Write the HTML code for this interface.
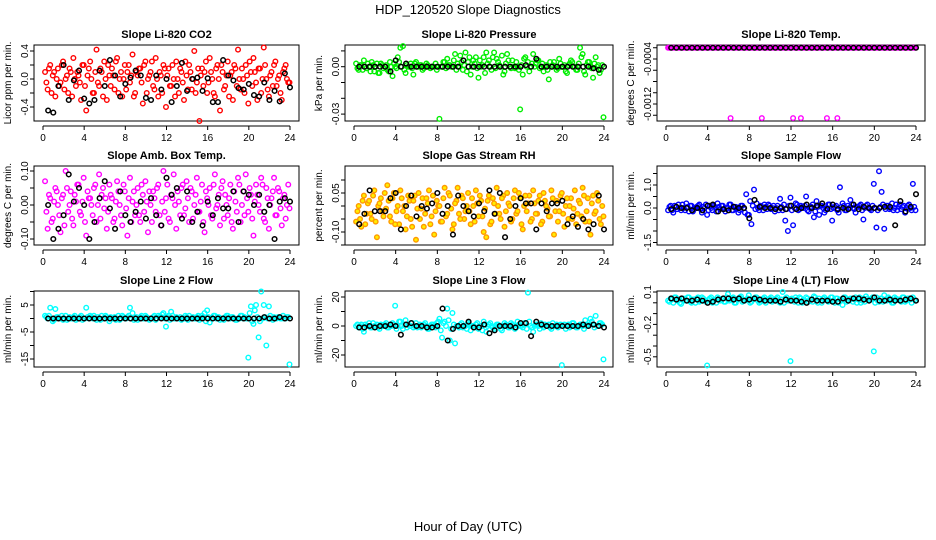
<!DOCTYPE html>
<html><head><meta charset="utf-8"><title>HDP_120520 Slope Diagnostics</title>
<style>
html,body{margin:0;padding:0;background:#fff;}
svg{display:block;font-family:"Liberation Sans",Arial,sans-serif;}
</style></head>
<body>
<svg id="chart" width="936" height="540" viewBox="0 0 936 540" xmlns="http://www.w3.org/2000/svg">
<text x="468" y="14" text-anchor="middle" font-size="13">HDP_120520  Slope Diagnostics</text>
<text x="468" y="531" text-anchor="middle" font-size="13">Hour of Day (UTC)</text>
</svg>
<script>
// shared hour arrays
const hoursC = [0.2,0.45,0.7,0.95,1.2,1.45,1.7,1.95,2.2,2.45,2.7,2.95,3.2,3.45,3.7,3.95,4.2,4.45,4.7,4.95,5.2,5.45,5.7,5.95,6.2,6.45,6.7,6.95,7.2,7.45,7.7,7.95,8.2,8.45,8.7,8.95,9.2,9.45,9.7,9.95,10.2,10.45,10.7,10.95,11.2,11.45,11.7,11.95,12.2,12.45,12.7,12.95,13.2,13.45,13.7,13.95,14.2,14.45,14.7,14.95,15.2,15.45,15.7,15.95,16.2,16.45,16.7,16.95,17.2,17.45,17.7,17.95,18.2,18.45,18.7,18.95,19.2,19.45,19.7,19.95,20.2,20.45,20.7,20.95,21.2,21.45,21.7,21.95,22.2,22.45,22.7,22.95,23.2,23.45,23.7,23.95];
const hoursD = [0.33,0.58,0.83,1.08,1.33,1.58,1.83,2.08,2.33,2.58,2.83,3.08,3.33,3.58,3.83,4.08,4.33,4.58,4.83,5.08,5.33,5.58,5.83,6.08,6.33,6.58,6.83,7.08,7.33,7.58,7.83,8.08,8.33,8.58,8.83,9.08,9.33,9.58,9.83,10.08,10.33,10.58,10.83,11.08,11.33,11.58,11.83,12.08,12.33,12.58,12.83,13.08,13.33,13.58,13.83,14.08,14.33,14.58,14.83,15.08,15.33,15.58,15.83,16.08,16.33,16.58,16.83,17.08,17.33,17.58,17.83,18.08,18.33,18.58,18.83,19.08,19.33,19.58,19.83,20.08,20.33,20.58,20.83,21.08,21.33,21.58,21.83,22.08,22.33,22.58,22.83,23.08,23.33,23.58,23.83];
const hoursB = [0.5,1,1.5,2,2.5,3,3.5,4,4.5,5,5.5,6,6.5,7,7.5,8,8.5,9,9.5,10,10.5,11,11.5,12,12.5,13,13.5,14,14.5,15,15.5,16,16.5,17,17.5,18,18.5,19,19.5,20,20.5,21,21.5,22,22.5,23,23.5,24];
const xTicks = [0,4,8,12,16,20,24];

// panel 1: CO2
const co2Col = [0.1,-0.15,0.2,0.05,-0.25,0.15,-0.05,0.25,0.0,-0.2,0.1,0.3,-0.1,0.05,-0.3,0.2,-0.45,0.15,0.0,-0.2,0.42,-0.1,0.1,0.25,-0.3,0.05,0.15,-0.15,0.3,0.0,-0.25,0.2,0.1,-0.05,0.35,-0.2,0.05,0.15,-0.35,0.25,0.0,0.1,-0.1,0.3,-0.25,0.05,0.2,-0.4,0.15,-0.1,0.0,0.25,-0.2,0.1,-0.3,0.05,0.2,-0.15,0.4,-0.05,-0.6,0.15,0.1,-0.2,0.3,0.0,-0.25,0.2,-0.45,0.1,-0.1,0.25,0.05,-0.3,0.15,0.42,-0.15,0.0,0.2,-0.35,0.1,0.3,-0.05,0.15,-0.2,0.45,0.0,-0.25,0.1,0.2,-0.1,0.05,-0.3,0.15,0.0,-0.05];
const co2Col2 = [-0.05,0.15,-0.2,0.1,0.0,-0.1,0.2,-0.15,0.05,0.15,-0.25,0.0,0.1,-0.05,0.2,-0.1,0.05,0.25,-0.2,0.1,-0.05,0.15,-0.25,0.0,0.2,-0.1,0.05,0.25,-0.2,0.1,0.0,-0.15,0.2,0.05,-0.25,0.1,0.15,-0.05,0.2,-0.2,0.05,0.25,-0.15,0.0,0.1,-0.2,0.15,0.05,-0.1,0.2,-0.25,0.0,0.15,-0.05,0.25,-0.15,0.1,0.0,-0.2,0.15,0.05,-0.1,0.25,-0.05,0.1,-0.2,0.15,0.0,0.2,-0.15,0.05,-0.25,0.1,0.2,-0.1,0.0,0.15,-0.2,0.05,0.25,-0.1,0.1,-0.3,0.15,0.0,0.2,-0.15,0.05,-0.1,0.25,0.0,-0.2,0.1,0.2,-0.05,0.1];
const co2Blk = [-0.45,-0.48,-0.1,0.2,-0.3,-0.02,0.12,-0.28,-0.35,-0.3,0.12,-0.1,0.27,0.05,-0.25,-0.07,0.02,0.12,0.05,-0.27,-0.3,0.05,-0.15,0.0,-0.33,-0.1,0.23,-0.17,0.0,0.02,-0.17,0.01,-0.33,-0.33,0.27,0.05,-0.02,-0.13,-0.15,-0.07,-0.23,-0.25,-0.05,-0.3,-0.17,-0.32,0.08,-0.12];
// panel 2: pressure
const presCol = [0.002,-0.002,0.001,0.004,-0.001,0.0,0.003,-0.003,0.002,-0.004,0.001,0.0,-0.002,0.003,-0.006,0.0,0.006,0.012,0.013,-0.004,0.0,0.002,-0.005,0.003,0.0,0.001,-0.001,0.002,0.0,0.0,0.0,-0.002,-0.033,0.0,0.003,0.005,0.001,0.0,0.008,0.002,0.007,-0.002,0.009,0.003,-0.005,0.004,0.006,-0.007,0.0,0.006,0.009,0.004,-0.002,0.009,0.005,0.001,0.007,-0.003,0.008,0.0,0.004,-0.001,0.0,-0.027,-0.005,0.006,0.003,0.0,0.008,0.002,0.004,0.0,-0.003,0.001,-0.008,0.0,0.003,-0.002,0.005,0.0,0.001,-0.004,0.002,0.003,0.0,-0.002,0.012,0.008,-0.005,0.003,0.0,-0.007,0.006,0.001,-0.002,-0.032];
const presCol2 = [-0.001,0.001,-0.002,0.0,0.002,-0.003,0.001,0.0,-0.004,0.002,-0.001,0.001,-0.003,0.0,0.002,-0.001,0.003,0.0,-0.002,0.001,0.0,-0.001,0.002,0.0,0.001,-0.002,0.0,0.001,-0.001,0.0,0.002,0.0,0.0,0.003,-0.001,0.001,0.0,0.004,-0.002,0.0,0.003,0.001,-0.003,0.006,0.0,0.002,-0.001,0.004,0.001,-0.004,0.002,0.0,0.006,-0.001,0.003,0.0,-0.005,0.002,0.004,-0.001,0.0,0.003,-0.002,0.001,0.005,0.0,-0.003,0.002,0.0,0.004,-0.001,0.002,0.0,-0.002,0.003,0.001,0.0,-0.001,0.002,0.0,-0.003,0.001,0.004,0.0,-0.002,0.002,0.006,-0.003,0.001,0.003,-0.001,0.002,0.0,-0.004,0.001,0.0];
const presBlk = [0,0,0,0,0,0,-0.003,0.004,0,0.002,0,0,0,0,0,0,0,0,0,0,0.004,0,0,0,0,0,0,0,0,0,0,0,0.001,0,0.005,0,0,0,0,0,0,0,0,0,0,-0.001,-0.002,0];
// panel 3: temp
const tempCol = [-0.0002,-0.0002,-0.0002,-0.0002,-0.0002,-0.0002,-0.0002,-0.0002,-0.0002,-0.0002,-0.0002,-0.0002,-0.0002,-0.0002,-0.0002,-0.0002,-0.0002,-0.0002,-0.0002,-0.0002,-0.0002,-0.0002,-0.0002,-0.0002,-0.00145,-0.0002,-0.0002,-0.0002,-0.0002,-0.0002,-0.0002,-0.0002,-0.0002,-0.0002,-0.0002,-0.0002,-0.00145,-0.0002,-0.0002,-0.0002,-0.0002,-0.0002,-0.0002,-0.0002,-0.0002,-0.0002,-0.0002,-0.0002,-0.00145,-0.0002,-0.0002,-0.00145,-0.0002,-0.0002,-0.0002,-0.0002,-0.0002,-0.0002,-0.0002,-0.0002,-0.0002,-0.00145,-0.0002,-0.0002,-0.0002,-0.00145,-0.0002,-0.0002,-0.0002,-0.0002,-0.0002,-0.0002,-0.0002,-0.0002,-0.0002,-0.0002,-0.0002,-0.0002,-0.0002,-0.0002,-0.0002,-0.0002,-0.0002,-0.0002,-0.0002,-0.0002,-0.0002,-0.0002,-0.0002,-0.0002,-0.0002,-0.0002,-0.0002,-0.0002,-0.0002,-0.0002];
const tempCol2 = [-0.0002,-0.0002,-0.0002,-0.0002,-0.0002,-0.0002,-0.0002,-0.0002,-0.0002,-0.0002,-0.0002,-0.0002,-0.0002,-0.0002,-0.0002,-0.0002,-0.0002,-0.0002,-0.0002,-0.0002,-0.0002,-0.0002,-0.0002,-0.0002,-0.0002,-0.0002,-0.0002,-0.0002,-0.0002,-0.0002,-0.0002,-0.0002,-0.0002,-0.0002,-0.0002,-0.0002,-0.0002,-0.0002,-0.0002,-0.0002,-0.0002,-0.0002,-0.0002,-0.0002,-0.0002,-0.0002,-0.0002,-0.0002,-0.0002,-0.0002,-0.0002,-0.0002,-0.0002,-0.0002,-0.0002,-0.0002,-0.0002,-0.0002,-0.0002,-0.0002,-0.0002,-0.0002,-0.0002,-0.0002,-0.0002,-0.0002,-0.0002,-0.0002,-0.0002,-0.0002,-0.0002,-0.0002,-0.0002,-0.0002,-0.0002,-0.0002,-0.0002,-0.0002,-0.0002,-0.0002,-0.0002,-0.0002,-0.0002,-0.0002,-0.0002,-0.0002,-0.0002,-0.0002,-0.0002,-0.0002,-0.0002,-0.0002,-0.0002,-0.0002,-0.0002,-0.0002];
const tempBlk = [-0.0002,-0.0002,-0.0002,-0.0002,-0.0002,-0.0002,-0.0002,-0.0002,-0.0002,-0.0002,-0.0002,-0.0002,-0.0002,-0.0002,-0.0002,-0.0002,-0.0002,-0.0002,-0.0002,-0.0002,-0.0002,-0.0002,-0.0002,-0.0002,-0.0002,-0.0002,-0.0002,-0.0002,-0.0002,-0.0002,-0.0002,-0.0002,-0.0002,-0.0002,-0.0002,-0.0002,-0.0002,-0.0002,-0.0002,-0.0002,-0.0002,-0.0002,-0.0002,-0.0002,-0.0002,-0.0002,-0.0002,-0.0002];
// panel 4: amb box temp
const ambCol = [0.07,-0.07,0.02,-0.04,0.05,0.0,-0.08,0.03,0.1,-0.02,0.04,-0.06,0.01,0.06,-0.03,0.08,-0.09,0.02,0.0,0.05,-0.05,0.09,0.03,-0.01,-0.07,0.06,0.02,-0.04,0.07,0.0,-0.06,0.04,-0.09,0.08,0.01,-0.03,0.05,-0.05,0.03,0.07,-0.08,0.0,0.04,-0.02,0.06,-0.06,0.1,0.02,-0.04,0.03,0.09,-0.07,0.01,0.05,-0.03,0.07,-0.05,0.04,0.0,0.08,-0.02,0.06,-0.08,0.02,0.05,-0.04,0.09,0.0,-0.06,0.07,0.03,-0.03,0.06,-0.07,0.01,0.08,-0.05,0.04,0.09,-0.02,0.03,-0.09,0.06,0.0,0.08,-0.04,0.05,-0.07,0.02,0.08,-0.03,0.04,-0.06,0.03,0.0,-0.01];
const ambCol2 = [-0.02,0.03,-0.05,0.01,0.04,-0.03,0.02,-0.06,0.05,0.0,-0.04,0.03,0.06,-0.02,0.01,-0.05,0.04,0.02,-0.03,0.06,0.0,-0.04,0.05,0.02,-0.02,0.03,-0.05,0.01,0.04,-0.03,0.06,-0.01,0.02,-0.05,0.04,0.0,-0.03,0.06,-0.02,0.01,0.04,-0.05,0.02,0.05,-0.03,0.01,-0.02,0.06,-0.05,0.02,0.0,0.04,-0.03,0.06,-0.01,0.02,0.05,-0.04,0.03,-0.02,0.01,-0.05,0.04,0.0,-0.03,0.06,-0.01,0.03,0.05,-0.04,0.0,0.02,-0.05,0.04,-0.02,0.06,0.0,-0.03,0.02,0.05,-0.04,0.01,0.03,-0.02,0.06,-0.05,0.02,0.0,0.04,-0.03,0.05,-0.01,0.02,-0.04,0.06,0.01];
const ambBlk = [0.0,-0.1,-0.07,-0.03,0.09,0.01,0.05,0.0,-0.1,-0.05,0.02,0.07,-0.01,-0.07,0.04,-0.03,-0.05,-0.02,0.01,-0.04,0.02,-0.03,-0.06,0.08,0.03,0.05,-0.04,0.04,-0.05,-0.02,-0.06,0.01,-0.03,0.02,-0.01,-0.01,0.04,-0.05,0.04,0.03,0.0,0.03,-0.02,0.0,-0.1,0.01,0.02,0.01];
// panel 5: RH
const rhCol = [-0.06,0.0,-0.08,0.04,-0.03,0.02,-0.05,0.06,-0.12,0.01,-0.02,0.05,0.08,-0.04,0.03,-0.07,0.0,0.06,-0.02,-0.09,0.04,-0.05,0.02,-0.13,0.05,-0.01,-0.08,0.03,0.06,-0.04,-0.11,0.02,0.0,-0.06,0.07,-0.03,0.04,-0.09,0.01,0.07,-0.05,0.03,-0.02,0.05,-0.07,0.0,0.06,-0.04,0.02,-0.1,-0.12,0.04,-0.06,0.01,0.07,-0.03,0.03,-0.08,0.05,0.0,-0.05,0.06,-0.02,0.03,-0.09,0.04,0.01,-0.06,0.06,-0.03,0.02,-0.07,0.05,0.0,-0.04,0.06,-0.11,0.02,-0.02,0.05,-0.08,0.03,0.0,-0.05,0.06,-0.03,0.01,0.07,-0.06,0.03,-0.11,0.04,-0.02,0.02,-0.07,-0.04];
const rhCol2 = [-0.02,-0.05,0.02,-0.07,0.01,-0.03,0.04,-0.06,0.0,0.03,-0.04,-0.01,0.02,-0.06,0.05,-0.02,-0.07,0.03,0.0,-0.04,0.02,-0.08,0.04,-0.01,-0.05,0.03,-0.03,0.01,-0.07,0.04,-0.02,0.0,-0.06,0.03,-0.04,0.05,-0.01,-0.07,0.02,-0.03,0.04,-0.05,0.0,-0.02,0.03,-0.06,0.01,0.04,-0.04,-0.01,0.02,-0.07,0.03,-0.03,0.0,-0.05,0.04,-0.02,0.01,-0.06,0.03,-0.03,0.05,-0.07,0.0,-0.02,0.04,-0.05,0.01,-0.03,0.04,-0.06,0.02,-0.01,-0.04,0.03,-0.02,-0.06,0.04,-0.03,0.0,-0.05,0.03,-0.01,-0.07,0.02,-0.04,0.04,-0.02,-0.06,0.01,-0.03,0.05,-0.05,0.0,-0.02];
const rhBlk = [-0.07,-0.03,0.06,-0.02,-0.02,-0.02,0.03,0.05,-0.09,0.0,0.04,-0.04,0.0,-0.01,0.01,0.05,-0.03,0.0,-0.11,0.04,0.0,-0.02,-0.04,0.01,-0.02,0.06,-0.03,0.05,-0.12,-0.05,0.0,0.03,0.01,0.01,-0.09,0.01,-0.02,0.01,0.01,0.02,-0.07,-0.04,-0.08,-0.05,-0.09,-0.07,0.04,-0.09];
// panel 6: sample flow
const sampCol = [-0.1,0.1,-0.2,0.05,0.15,-0.1,0.0,0.2,-0.15,0.1,-0.05,0.05,0.15,-0.2,0.0,-0.3,0.1,-0.1,0.05,0.2,-0.05,0.1,-0.15,0.0,0.15,-0.1,0.05,-0.2,0.1,0.0,0.6,-0.3,-0.7,0.8,0.2,-0.1,0.05,0.15,-0.05,0.1,0.0,-0.15,0.1,0.4,-0.1,-0.55,-1.0,0.45,-0.75,0.2,-0.1,0.1,0.0,0.5,-0.15,0.05,-0.4,0.3,-0.3,0.1,-0.2,0.0,0.15,-0.55,0.05,-0.1,0.9,0.2,-0.1,0.1,0.35,0.0,-0.2,0.05,0.15,-0.5,0.1,0.0,-0.1,1.05,-0.85,1.6,0.7,-0.9,0.1,-0.05,0.2,0.0,-0.1,0.15,0.05,-0.2,0.1,0.0,1.05,-0.1];
const sampCol2 = [0.05,-0.1,0.1,-0.05,0.0,0.15,-0.1,0.05,0.1,-0.15,0.0,0.1,-0.05,0.05,0.15,-0.1,0.0,0.1,-0.15,0.05,0.1,-0.05,0.0,0.15,-0.1,0.05,0.0,-0.1,0.1,-0.2,-0.3,0.3,0.1,-0.05,0.0,0.1,-0.1,0.05,0.15,-0.05,0.1,0.0,-0.1,0.05,0.15,-0.05,0.1,-0.1,0.0,0.15,-0.05,0.05,0.1,-0.1,0.0,0.15,-0.15,0.05,0.1,0.0,-0.1,0.15,-0.05,0.0,0.1,-0.2,0.05,0.1,-0.1,0.0,0.15,-0.05,0.05,0.1,-0.1,0.0,0.15,-0.05,0.1,0.0,-0.1,0.05,0.15,-0.05,0.1,0.0,-0.1,0.15,0.05,-0.05,0.1,0.0,0.15,-0.1,0.05,0.1];
const sampBlk = [-0.05,0.05,0.0,0.0,-0.1,0.0,-0.1,0.1,0.15,-0.15,-0.05,-0.1,0.05,0.0,0.0,-0.45,0.35,0.05,0.0,0.0,-0.05,0.0,-0.05,0.1,-0.05,0.0,0.15,0.0,0.1,0.2,-0.05,0.15,-0.05,0.0,-0.05,0.15,-0.05,0.05,0.0,0.0,0.0,0.05,0.05,-0.75,0.3,-0.15,0.05,0.6];
// panel 7: line 2 flow
const l2Col = [1,0,4,-1,3.5,0.5,0,-0.5,1,0,0,0.5,-0.5,0,1,0,4,0,0.5,1,-0.5,0,1,0,0.5,-1,0,0.5,0,-0.5,1,0,0.5,4,2,0,-0.5,0.5,0,1,0,0,0.5,-0.5,1,0.5,2,-3,1,2.5,0,0.5,0,-0.5,0,0.5,1,0,0,0.5,-0.5,1,2,3,-1.5,0,1,0.5,-0.5,0,0.5,1,0,0.5,-0.5,0,1,0,0,-14.5,4.5,-2,5,-7,10,5,-10,4.5,0,0.5,0,0.5,0,0,0.5,-17];
const l2Col2 = [0.5,1,0,-0.5,0.5,0,1,0,-0.5,0.5,0,1,0,0.5,-0.5,0,0.5,1,0,0,0.5,-0.5,0,1,0,0.5,0,-0.5,1,0,0.5,0,1,0,-0.5,0.5,0,1,0,0.5,-0.5,0,1,0,0.5,1.5,0,0.5,-0.5,1,0,0,0.5,0,1,-0.5,0,0.5,0,1,0,0.5,-1,0.5,0,1,0,0.5,0,-0.5,1,0,0.5,0,-0.5,0,1,0.5,0,2,-1,3,0.5,-1,0,0.5,0,1,-0.5,0,0.5,0,1,0,0.5,0];
const l2Blk = [0,0,0,0,0,0,0,0,0,0,0,0,0,0,0,0,0,0,0,0,0,0,0,0,0,0,0,0,0,0,0,0,0,0,0,0,0,0,0,0,0,0,0.5,0,0,0.5,0,0];
// panel 8: line 3 flow
const l3Col = [0,-1,1,-4,0,2,-1,0,1,-2,0,1,-1,0,2,14,0,3,-2,4,1,0,-1,2,0,-1,1,0,-2,1,0,2,5,-8,3,12,-10,9,-12,0,1,-1,0,2,-3,0,1,-2,0,3,-4,1,0,-2,1,0,-3,2,0,-1,1,-2,3,0,-1,2,23,0,-4,1,0,2,-1,0,1,-2,0,1,0,-27,1,0,-1,2,0,-1,1,0,4,0,5,1,7,0,2,-23];
const l3Col2 = [1,0,-2,1,0,-1,2,0,-1,1,0,2,-1,0,1,-2,3,0,1,-1,0,2,0,-1,1,0,2,-2,0,1,-1,3,-3,2,0,4,-2,1,0,-1,2,0,-2,1,0,-1,2,0,-3,1,0,2,-1,0,1,-2,0,1,-1,2,0,-1,1,0,2,-2,3,-1,0,1,-2,0,1,0,-1,2,0,-1,1,0,-2,1,0,2,-1,0,1,-2,0,1,3,-1,0,2,1,0];
const l3Blk = [-1,-1,0,-1,0,0,1,0,-6,1,2,0,0,-1,-1,0,12,-10,-2,0,0,3,-1,-1,1,-5,-3,0,0,0,-1,2,2,-7,3,1,0,0,0,0,0,0,0,1,0,1,0,-1];
// panel 9: line 4 flow
const l4Col = [0.02,0.04,0.0,0.05,0.03,-0.01,0.04,0.02,0.05,0.0,0.03,0.04,0.01,0.05,0.02,-0.58,0.04,0.0,0.03,0.05,0.02,0.04,0.01,0.08,0.03,0.05,0.0,0.04,0.06,0.02,0.03,0.07,0.01,0.04,0.05,0.0,0.03,0.05,0.02,0.04,0.01,0.03,0.05,0.0,0.1,0.04,0.02,-0.54,0.03,0.05,0.0,0.04,0.02,0.05,0.01,0.03,0.06,0.02,0.04,0.0,0.05,0.03,0.02,0.05,0.0,0.04,0.03,-0.02,0.05,0.02,0.04,0.01,0.05,0.03,0.0,0.04,0.06,0.02,0.03,-0.45,0.05,0.01,0.04,0.07,0.02,0.04,0.0,0.05,0.03,0.02,0.05,0.01,0.04,0.03,0.05,0.02];
const l4Col2 = [0.01,0.03,0.05,0.02,0.0,0.04,0.02,0.05,0.01,0.03,0.0,0.05,0.02,0.04,0.01,0.03,0.05,0.02,0.0,0.04,0.03,0.01,0.05,0.02,0.04,0.0,0.03,0.05,0.01,0.02,0.04,0.0,0.03,0.05,0.02,0.01,0.04,0.0,0.03,0.05,0.02,0.04,0.01,0.03,0.0,0.05,0.02,0.04,0.01,0.03,0.05,0.0,0.02,0.04,0.03,0.01,0.05,0.0,0.02,0.04,0.03,0.01,0.05,0.02,0.04,0.0,0.03,0.05,0.01,0.02,0.04,0.03,0.0,0.05,0.02,0.01,0.04,0.03,0.05,0.0,0.02,0.04,0.01,0.03,0.05,0.02,0.0,0.04,0.03,0.01,0.05,0.02,0.04,0.0,0.03,0.05];
const l4Blk = [0.04,0.03,0.04,0.02,0.02,0.03,0.02,0.0,0.01,0.03,0.04,0.04,0.03,0.04,0.02,0.03,0.04,0.03,0.02,0.02,0.02,0.01,0.03,0.02,0.02,0.01,0.0,0.03,0.02,0.02,0.02,0.01,0.01,0.04,0.02,0.04,0.04,0.03,0.02,0.05,0.02,0.02,0.03,0.02,0.02,0.03,0.04,0.02];

// y tick values / labels
const ticks1 = [-0.4,-0.2,0,0.2,0.4]; const labs1 = ["-0.4","","0.0","","0.4"];
const ticks2 = [0.01,0,-0.01,-0.02,-0.03]; const labs2 = ["","0.00","","","-0.03"];
const ticks3 = [-0.0002,-0.0004,-0.0006,-0.0008,-0.001,-0.0012,-0.0014]; const labs3 = ["","-0.0004","","","","-0.0012",""];
const ticks4 = [-0.1,-0.05,0,0.05,0.1]; const labs4 = ["-0.10","","0.00","","0.10"];
const ticks5 = [0.1,0.05,0,-0.05,-0.1,-0.15]; const labs5 = ["","0.05","","","-0.10",""];
const ticks6 = [1.5,1,0.5,0,-0.5,-1,-1.5]; const labs6 = ["","1.0","","0.0","","","-1.5"];
const ticks7 = [10,5,0,-5,-10,-15]; const labs7 = ["","5","","-5","","-15"];
const ticks8 = [20,10,0,-10,-20]; const labs8 = ["20","","0","","-20"];
const ticks9 = [0.1,0,-0.1,-0.2,-0.3,-0.4,-0.5]; const labs9 = ["0.1","","","-0.2","","","-0.5"];

const NS = "http://www.w3.org/2000/svg";
const svg = document.getElementById("chart");
function mk(tag, attrs, parent){ const e=document.createElementNS(NS,tag); for(const k in attrs) e.setAttribute(k,attrs[k]); (parent||svg).appendChild(e); return e; }

const colL=[34,345,657], colR=[299,613,925], rowT=[45,166,291], rowB=[121,245,367];
const panels = [
 {id:"co2",title:"Slope Li-820 CO2",ylab:"Licor ppm per min.",c:0,r:0,refV:0,refY:79,ppu:70,col:co2Col,col2:co2Col2,blk:co2Blk,ticks:ticks1,labs:labs1,stroke:"#ff0000",fill:"none"},
 {id:"pressure",title:"Slope Li-820 Pressure",ylab:"kPa per min.",c:1,r:0,refV:0,refY:66.7,ppu:1580,col:presCol,col2:presCol2,blk:presBlk,ticks:ticks2,labs:labs2,stroke:"#00ee00",fill:"none"},
 {id:"temp",title:"Slope Li-820 Temp.",ylab:"degrees C per min.",c:2,r:0,refV:-0.0004,refY:59,ppu:56250,col:tempCol,col2:tempCol2,blk:tempBlk,ticks:ticks3,labs:labs3,stroke:"#ff00ff",fill:"none"},
 {id:"amb-temp",title:"Slope Amb. Box Temp.",ylab:"degrees C per min.",c:0,r:1,refV:0,refY:205,ppu:340,col:ambCol,col2:ambCol2,blk:ambBlk,ticks:ticks4,labs:labs4,stroke:"#ff00ff",fill:"none"},
 {id:"rh",title:"Slope Gas Stream RH",ylab:"percent per min.",c:1,r:1,refV:0,refY:206,ppu:260,col:rhCol,col2:rhCol2,blk:rhBlk,ticks:ticks5,labs:labs5,stroke:"#ff9900",fill:"#ffee00"},
 {id:"sample-flow",title:"Slope Sample Flow",ylab:"ml/min per min.",c:2,r:1,refV:0,refY:208,ppu:23,col:sampCol,col2:sampCol2,blk:sampBlk,ticks:ticks6,labs:labs6,stroke:"#0000ff",fill:"none"},
 {id:"line2",title:"Slope Line 2 Flow",ylab:"ml/min per min.",c:0,r:2,refV:0,refY:318.5,ppu:2.7,col:l2Col,col2:l2Col2,blk:l2Blk,ticks:ticks7,labs:labs7,stroke:"#00ffff",fill:"none"},
 {id:"line3",title:"Slope Line 3 Flow",ylab:"ml/min per min.",c:1,r:2,refV:0,refY:326,ppu:1.45,col:l3Col,col2:l3Col2,blk:l3Blk,ticks:ticks8,labs:labs8,stroke:"#00ffff",fill:"none"},
 {id:"line4",title:"Slope Line 4 (LT) Flow",ylab:"ml/min per min.",c:2,r:2,refV:0.1,refY:292,ppu:108,col:l4Col,col2:l4Col2,blk:l4Blk,ticks:ticks9,labs:labs9,stroke:"#00ffff",fill:"none"}
];

panels.forEach(p=>{
  const L=colL[p.c], R=colR[p.c], T=rowT[p.r], B=rowB[p.r];
  const xs = h => (L+9) + h/24*((R-9)-(L+9));
  const ys = v => p.refY - (v - p.refV)*p.ppu;
  const g = mk("g",{});
  
  
  const t = mk("text",{x:(L+R)/2,y:T-7,"text-anchor":"middle","font-size":"11","font-weight":"bold"},g);
  t.textContent=p.title;
  
  
  const yl = mk("text",{x:0,y:0,"text-anchor":"middle","font-size":"10",transform:`translate(${L-23},${(T+B)/2}) rotate(-90)`},g);
  yl.textContent=p.ylab;
  
  
  const box = mk("rect",{x:L,y:T,width:R-L,height:B-T,fill:"none",stroke:"#000","stroke-width":"1"},g);
  
  
  p.ticks.forEach((v,i)=>{
    const y=ys(v);
    const tk = mk("line",{x1:L,x2:L-4,y1:y,y2:y,stroke:"#000"},g);
    
    
    if(p.labs[i]){
      const tl = mk("text",{x:0,y:0,"text-anchor":"middle","font-size":"10",transform:`translate(${L-6},${y}) rotate(-90)`},g);
      tl.textContent=p.labs[i];
      
      
    }
  });
  const ax = mk("line",{x1:xs(0),x2:xs(24),y1:B+5,y2:B+5,stroke:"#000"},g);
  
  
  xTicks.forEach(h=>{
    const x=xs(h);
    const tk = mk("line",{x1:x,x2:x,y1:B+5,y2:B+9,stroke:"#000"},g);
    
    
    const tl = mk("text",{x:x,y:B+20,"text-anchor":"middle","font-size":"10"},g);
    tl.textContent=String(h);
    
    
  });
  p.col2.forEach((v,i)=>{
    if(i>=hoursD.length) return;
    const c = mk("circle",{cx:xs(hoursD[i]),cy:ys(v),r:2.3,fill:p.fill,stroke:p.stroke,"stroke-width":"1.4"},g);
    
    
  });
  p.col.forEach((v,i)=>{
    if(i>=hoursC.length) return;
    const c = mk("circle",{cx:xs(hoursC[i]),cy:ys(v),r:2.3,fill:p.fill,stroke:p.stroke,"stroke-width":"1.4"},g);
    
    
  });
  p.blk.forEach((v,i)=>{
    if(i>=hoursB.length) return;
    const c = mk("circle",{cx:xs(hoursB[i]),cy:ys(v),r:2.3,fill:"none",stroke:"#000","stroke-width":"1.5"},g);
    
    
  });
});
</script>
</body></html>
